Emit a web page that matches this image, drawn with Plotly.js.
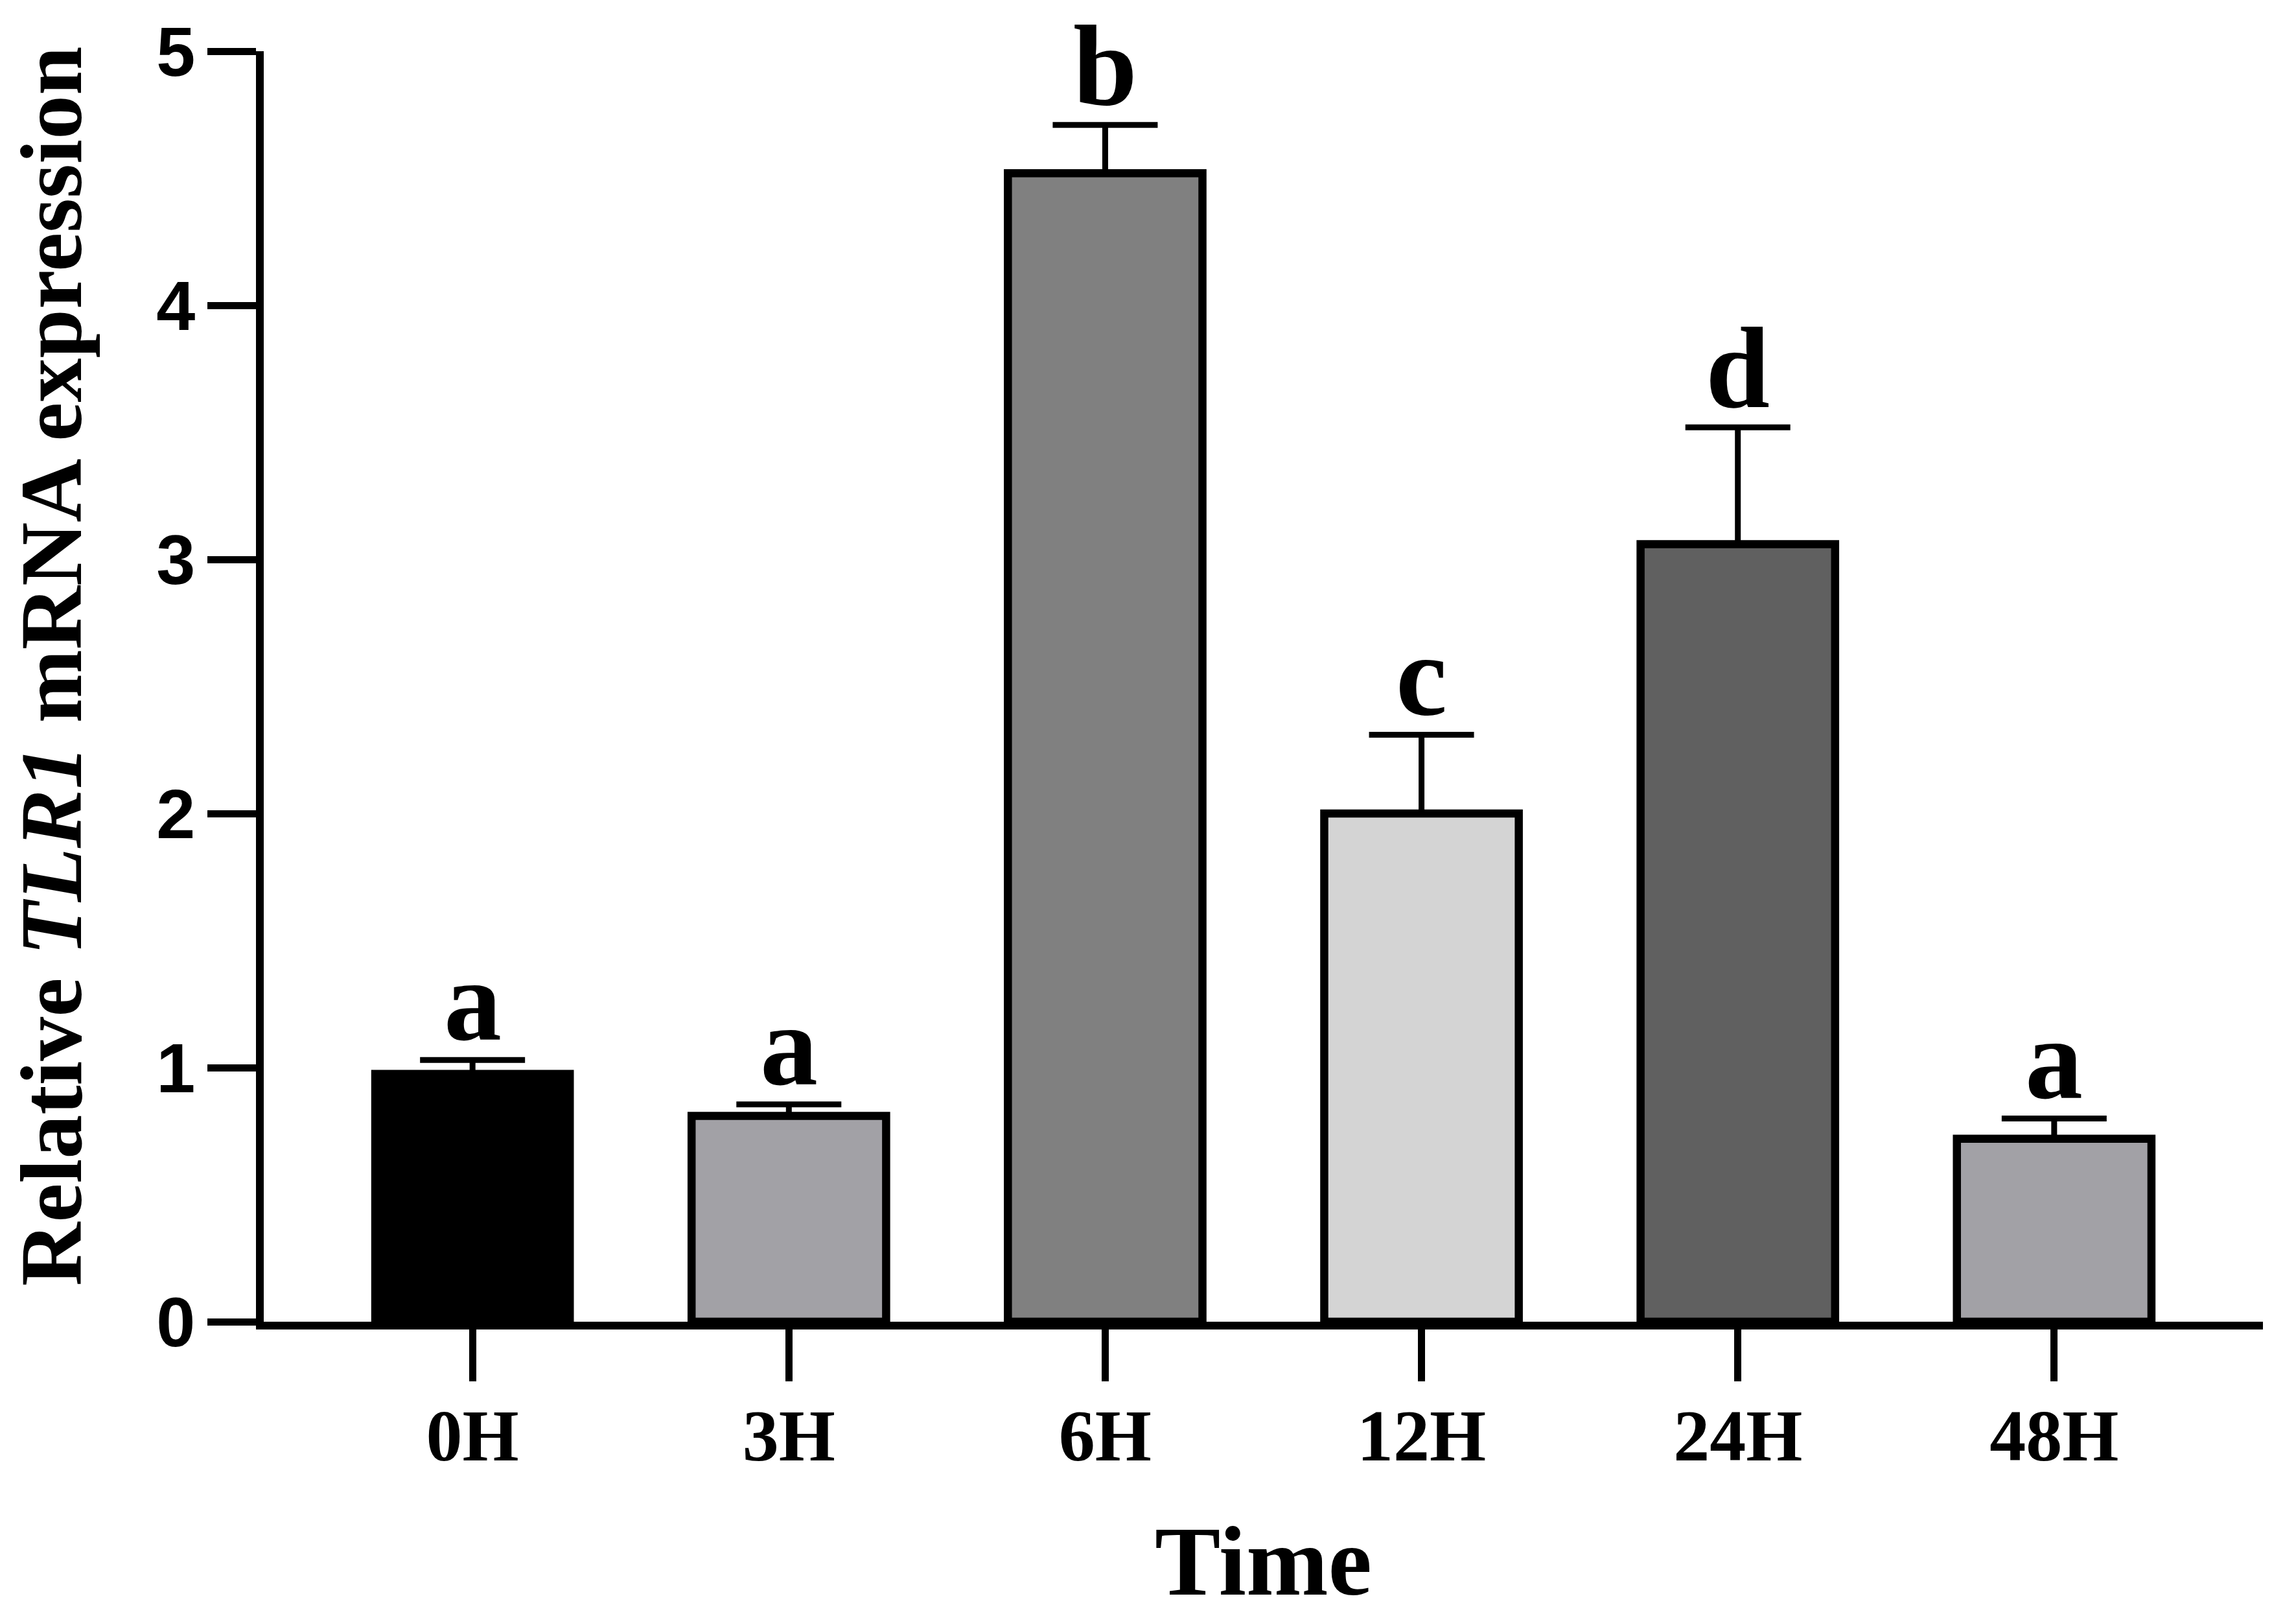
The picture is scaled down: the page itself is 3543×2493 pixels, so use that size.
<!DOCTYPE html>
<html>
<head>
<meta charset="utf-8">
<script src="https://cdn.plot.ly/plotly-3.0.1.min.js"></script>
<style>
  html, body { margin: 0; padding: 0; background: #fff; }
  #chart { width: 3543px; height: 2493px; }
</style>
</head>
<body>
<div id="chart"></div>
<script>
// relative TLR1 expression over time
const times = ['0H', '3H', '6H', '12H', '24H', '48H'];
const means = [0.975, 0.81, 4.52, 2.00, 3.06, 0.72];
const sem = [0.055, 0.045, 0.19, 0.31, 0.46, 0.08];
const letters = ['a', 'a', 'b', 'c', 'd', 'a'];
const fills = ['#000000', '#a2a1a6', '#808080', '#d4d4d4', '#606060', '#a2a1a6'];

const serif = 'Liberation Serif, Times New Roman, serif';
const sans = 'Liberation Sans, Arial, sans-serif';

const bars = {
  x: times,
  y: means,
  type: 'bar',
  width: 0.615,
  marker: {color: fills, line: {color: '#000', width: 12.5}},
  error_y: {
    type: 'data', array: sem, arrayminus: times.map(() => 0), symmetric: false,
    color: '#000', thickness: 9, width: 81
  },
  hoverinfo: 'skip'
};

const notes = times.map((t, i) => ({
  x: t, y: means[i] + sem[i], text: letters[i],
  showarrow: false, yanchor: 'bottom', yshift: -10,
  font: {family: serif, size: 178, color: '#000', weight: 'bold'}
}));

// y title as an annotation so it can sit a bit above the plot centre
notes.push({
  xref: 'paper', yref: 'paper', x: -0.1065, y: 0.516,
  xanchor: 'center', yanchor: 'middle', textangle: -90, showarrow: false,
  text: 'Relative <i>TLR1</i> mRNA expression',
  font: {family: serif, size: 136, color: '#000', weight: 'bold'}
});

Plotly.newPlot('chart', [bars], {
  width: 3543, height: 2493,
  margin: {l: 407, r: 51, t: 79, b: 454},
  paper_bgcolor: '#fff', plot_bgcolor: '#fff',
  showlegend: false,
  xaxis: {
    type: 'category', range: [-0.66, 5.66],
    showline: true, linecolor: '#000', linewidth: 12,
    ticks: 'outside', ticklen: 80, tickwidth: 11, tickcolor: '#000',
    ticklabelstandoff: -12,
    tickfont: {family: serif, size: 112, color: '#000', weight: 'bold'},
    showgrid: false, zeroline: false,
    title: {text: 'Time', standoff: 130, font: {family: serif, size: 152, color: '#000', weight: 'bold'}}
  },
  yaxis: {
    range: [0, 5], tickvals: [0, 1, 2, 3, 4, 5],
    showline: true, linecolor: '#000', linewidth: 12,
    ticks: 'outside', ticklen: 75, tickwidth: 11, tickcolor: '#000',
    ticklabelstandoff: -3,
    tickfont: {family: sans, size: 108, color: '#000', weight: 'bold'},
    showgrid: false, zeroline: false
  },
  annotations: notes
}, {staticPlot: true});
</script>
</body>
</html>
